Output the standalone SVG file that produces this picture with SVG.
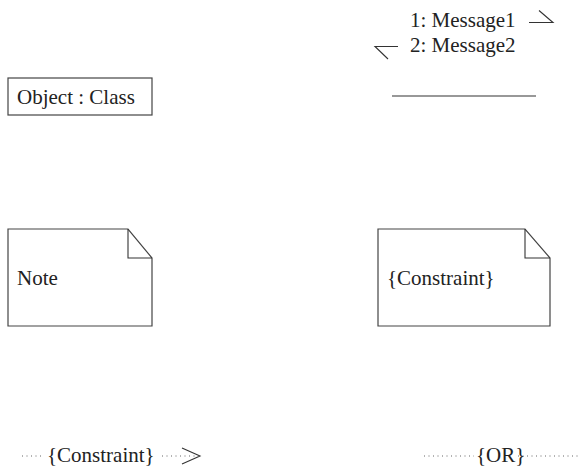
<svg xmlns="http://www.w3.org/2000/svg" width="581" height="470" viewBox="0 0 581 470">
  <style>
    text { font-family: 'Liberation Serif', 'Times New Roman', serif; font-size: 21px; fill: #222; }
    .box { fill: #fff; stroke: #444; stroke-width: 1.2; }
    .ln { fill: none; stroke: #333; stroke-width: 1.1; }
    .dot { fill: none; stroke: #666; stroke-width: 1; stroke-dasharray: 1 3.5; }
  </style>
  <rect width="581" height="470" fill="#fff"/>

  <g id="object">
    <rect class="box" x="8" y="78" width="144" height="37"/>
    <text x="17" y="104">Object : Class</text>
  </g>

  <g id="note">
    <path class="box" d="M8 229 H128 L152 258 V326 H8 Z"/>
    <path class="ln" d="M128 229 V258 H152"/>
    <text x="17" y="285">Note</text>
  </g>

  <g id="constraint-note">
    <path class="box" d="M378 229 H525 L550 258 V326 H378 Z"/>
    <path class="ln" d="M525 229 V258 H550"/>
    <text x="387" y="285">{Constraint}</text>
  </g>

  <g id="messages">
    <text x="410" y="27">1: Message1</text>
    <text x="410" y="52">2: Message2</text>
  </g>

  <g id="connectors">
    <!-- message arrows with half arrowheads -->
    <path class="ln" d="M529 22.5 H553 L539 10.5"/>
    <path class="ln" d="M398 46.5 H375 L388 59"/>
    <!-- link -->
    <path class="ln" d="M392 96 H536"/>
    <!-- dependency carrying a constraint -->
    <path class="dot" d="M22 456 H44"/>
    <path class="dot" d="M162 456 H198"/>
    <path class="ln" d="M182 448 L200 456 L182 464"/>
    <!-- OR constraint -->
    <path class="dot" d="M424 456 H474"/>
    <path class="dot" d="M518 456 H581"/>
  </g>
  <g id="labels">
    <text x="47" y="462">{Constraint}</text>
    <text x="476" y="462">{OR}</text>
  </g>
</svg>
